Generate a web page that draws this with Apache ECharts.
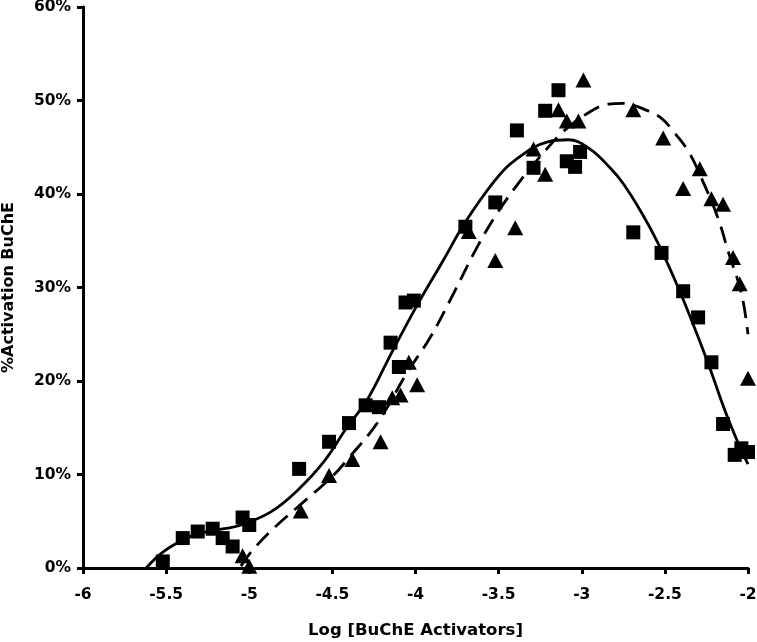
<!DOCTYPE html>
<html>
<head>
<meta charset="utf-8">
<script src="https://cdn.jsdelivr.net/npm/echarts@6/dist/echarts.min.js"></script>
<style>html,body{margin:0;padding:0;background:#fff}#c{width:757px;height:642px}</style>
</head>
<body>
<div id="c"></div>
<script>
var xTicks = [-6, -5.5, -5, -4.5, -4, -3.5, -3, -2.5, -2];
var yTicks = [0, 10, 20, 30, 40, 50, 60];

var squares = [[-5.52,0.7],[-5.40,3.2],[-5.31,3.9],[-5.22,4.2],[-5.16,3.2],[-5.10,2.3],[-5.04,5.4],[-5.00,4.6],[-4.70,10.6],[-4.52,13.5],[-4.40,15.5],[-4.30,17.4],[-4.22,17.2],[-4.15,24.1],[-4.10,21.5],[-4.06,28.4],[-4.01,28.6],[-3.70,36.5],[-3.52,39.1],[-3.39,46.8],[-3.29,42.8],[-3.22,48.9],[-3.14,51.1],[-3.09,43.5],[-3.04,42.9],[-3.01,44.5],[-2.69,35.9],[-2.52,33.7],[-2.39,29.6],[-2.30,26.8],[-2.22,22.0],[-2.15,15.4],[-2.08,12.1],[-2.04,12.8],[-2.00,12.4]];

var triangles = [[-5.04,1.3],[-5.00,0.2],[-4.69,6.1],[-4.52,9.9],[-4.38,11.6],[-4.21,13.5],[-4.14,18.2],[-4.09,18.5],[-4.04,22.0],[-3.99,19.6],[-3.68,36.0],[-3.52,32.9],[-3.40,36.4],[-3.29,44.8],[-3.22,42.1],[-3.14,49.0],[-3.09,47.8],[-3.02,47.8],[-2.99,52.2],[-2.69,49.0],[-2.51,46.0],[-2.39,40.6],[-2.29,42.7],[-2.22,39.5],[-2.15,38.9],[-2.09,33.2],[-2.05,30.4],[-2.00,20.3]];

var solidFit = [[-5.62,0],[-5.52,1.7],[-5.40,3.0],[-5.30,3.7],[-5.15,4.2],[-5.05,4.6],[-4.87,6.0],[-4.71,8.3],[-4.55,11.4],[-4.41,15.1],[-4.29,18.0],[-4.15,22.8],[-4.00,27.8],[-3.83,33.0],[-3.70,37.0],[-3.52,41.5],[-3.41,43.5],[-3.20,45.6],[-3.08,45.8],[-2.95,44.8],[-2.83,42.8],[-2.75,41.1],[-2.64,38.0],[-2.54,34.7],[-2.42,30.0],[-2.30,24.7],[-2.22,20.9],[-2.14,16.9],[-2.06,13.4],[-2.00,11.1]];

var dashedFit = [[-5.05,0.2],[-4.98,1.9],[-4.85,4.3],[-4.71,6.5],[-4.50,9.8],[-4.40,11.8],[-4.23,15.5],[-4.05,20.9],[-3.91,24.7],[-3.77,29.4],[-3.63,34.3],[-3.51,37.9],[-3.37,41.4],[-3.25,44.0],[-3.11,46.7],[-2.95,48.8],[-2.84,49.6],[-2.75,49.7],[-2.63,49.1],[-2.52,48.1],[-2.45,46.7],[-2.36,44.6],[-2.28,41.7],[-2.18,37.4],[-2.12,33.9],[-2.04,29.4],[-2.00,25.0]];

var FONT = '"DejaVu Sans", "Liberation Sans", Arial, sans-serif';
var chart = echarts.init(document.getElementById('c'), null, {renderer: 'canvas'});
chart.setOption({
  animation: false,
  backgroundColor: '#fff',
  grid: {left: 83, right: 9, top: 7, bottom: 74, containLabel: false, outerBoundsMode: 'none'},
  xAxis: {
    type: 'value', min: xTicks[0], max: xTicks[xTicks.length - 1], interval: 0.5,
    name: 'Log [BuChE Activators]', nameLocation: 'middle', nameGap: 54,
    nameTextStyle: {fontFamily: FONT, fontWeight: 'bold', fontSize: 16.5, color: '#000'},
    axisLine: {onZero: false, lineStyle: {color: '#000', width: 3}},
    axisTick: {show: true, length: 6, lineStyle: {color: '#000', width: 3}},
    axisLabel: {fontFamily: FONT, fontWeight: 'bold', fontSize: 15.5, color: '#000', margin: 19,
      formatter: function (v) { return String(v); }},
    splitLine: {show: false}
  },
  yAxis: {
    type: 'value', min: yTicks[0], max: yTicks[yTicks.length - 1], interval: 10,
    name: '%Activation BuChE', nameLocation: 'middle', nameGap: 66,
    nameTextStyle: {fontFamily: FONT, fontWeight: 'bold', fontSize: 16, color: '#000'},
    axisLine: {show: true, lineStyle: {color: '#000', width: 3}},
    axisTick: {show: true, length: 6, lineStyle: {color: '#000', width: 3}},
    axisLabel: {fontFamily: FONT, fontWeight: 'bold', fontSize: 15.5, color: '#000', margin: 12,
      formatter: '{value}%'},
    splitLine: {show: false}
  },
  series: [
    {type: 'line', data: solidFit, smooth: 0.4, showSymbol: false, clip: false,
      lineStyle: {color: '#000', width: 2.8, type: 'solid'}, z: 2},
    {type: 'line', data: dashedFit, smooth: 0.4, showSymbol: false, clip: false,
      lineStyle: {color: '#000', width: 2.8, type: [17, 9]}, z: 2},
    {type: 'scatter', data: squares, symbol: 'rect', symbolSize: 14, clip: false,
      itemStyle: {color: '#000', opacity: 1}, z: 3},
    {type: 'scatter', data: triangles, symbol: 'triangle', symbolSize: [16, 15], clip: false,
      itemStyle: {color: '#000', opacity: 1}, z: 3}
  ]
});
</script>
</body>
</html>
